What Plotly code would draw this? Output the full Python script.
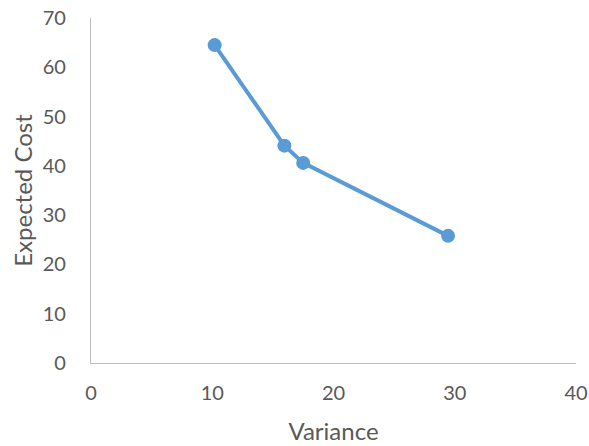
import plotly.graph_objects as go

variance = [10.2, 15.95, 17.5, 29.45]
expected_cost = [64.5, 44.1, 40.6, 25.8]
x_ticks = [0, 10, 20, 30, 40]
y_ticks = [0, 10, 20, 30, 40, 50, 60, 70]

GRAY = "#595959"
FONT = "Lato, Open Sans, sans-serif"

fig = go.Figure()
fig.add_trace(go.Scatter(
    x=variance, y=expected_cost, mode="lines+markers",
    line=dict(color="#5B9BD5", width=4),
    marker=dict(color="#5B9BD5", size=14),
    showlegend=False,
))

fig.update_layout(
    width=589, height=446,
    margin=dict(l=91, r=13, t=18, b=83),
    paper_bgcolor="white", plot_bgcolor="white",
    font=dict(family=FONT, color=GRAY, size=20),
)
fig.update_xaxes(
    range=[0, 40], tickvals=x_ticks, showgrid=False, zeroline=False,
    showline=True, linecolor="#BFBFBF", linewidth=1.3,
    ticks="outside", ticklen=12, tickcolor="rgba(0,0,0,0)",
    automargin=False,
    title=dict(text="Variance", font=dict(family=FONT, size=24, color=GRAY), standoff=20),
    tickfont=dict(family=FONT, size=20, color=GRAY),
)
fig.update_yaxes(
    range=[0, 70], tickvals=y_ticks, showgrid=False, zeroline=False,
    showline=True, linecolor="#BFBFBF", linewidth=1.3,
    ticks="outside", ticklen=20, tickcolor="rgba(0,0,0,0)",
    automargin=False,
    title=dict(text="Expected Cost", font=dict(family=FONT, size=24, color=GRAY), standoff=3),
    tickfont=dict(family=FONT, size=20, color=GRAY),
)
fig.write_html("out.html")
